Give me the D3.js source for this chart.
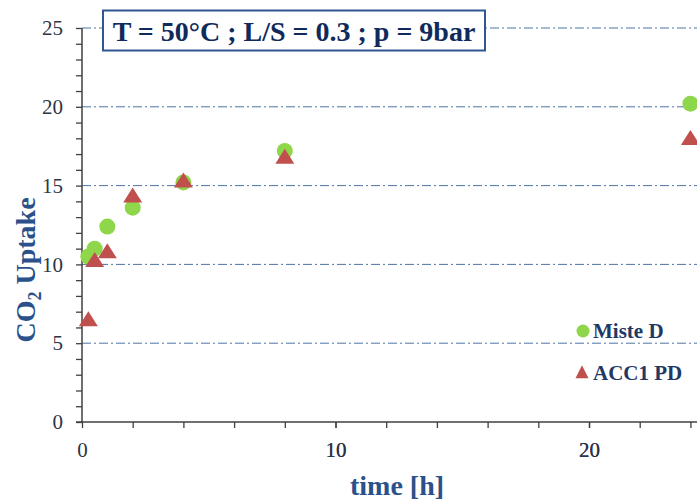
<!DOCTYPE html>
<html>
<head>
<meta charset="utf-8">
<script src="https://cdn.jsdelivr.net/npm/d3@7"></script>
<style>
  html, body { margin: 0; padding: 0; background: #fff; }
  svg { display: block; }
</style>
</head>
<body>
<svg id="chart" width="697" height="501"></svg>
<script>
// CO2 uptake over time for two materials
const timeMisteD = [0.25, 0.5, 1, 2, 4, 8, 24];
const uptakeMisteD = [10.5, 11.0, 12.4, 13.6, 15.2, 17.2, 20.2];
const timeACC1 = [0.25, 0.5, 1, 2, 4, 8, 24];
const uptakeACC1 = [6.4, 10.15, 10.7, 14.25, 15.2, 16.7, 17.9];
const xTicks = [0, 10, 20];
const yTicks = [0, 5, 10, 15, 20, 25];
const seriesNames = ["Miste D", "ACC1 PD"];
const titleText = "T = 50°C ; L/S = 0.3 ; p = 9bar";

const svg = d3.select("#chart");
const FONT = "'Liberation Serif'";

const x = d3.scaleLinear().domain([0, 24.26]).range([82, 697]);
const y = d3.scaleLinear().domain([0, 25]).range([422, 28]);

// horizontal dash-dot gridlines
svg.append("g").selectAll("line")
  .data(yTicks.filter(d => d > 0))
  .join("line")
  .attr("x1", x(0)).attr("x2", 697)
  .attr("y1", d => y(d)).attr("y2", d => y(d))
  .attr("stroke", "#4f74a8")
  .attr("stroke-width", 1)
  .attr("stroke-dasharray", "9,3,2,3");

// y axis: majors every 5, minors every 1, ticks pointing left
const yAxis = d3.axisLeft(y).tickValues(d3.range(0, 26, 1))
  .tickSize(6).tickPadding(13)
  .tickFormat(d => yTicks.includes(d) ? d : "");
const gy = svg.append("g").attr("transform", `translate(${x(0)},0)`).call(yAxis);
gy.attr("font-family", null);
gy.select(".domain").attr("stroke", "#404040").attr("stroke-width", 1.5).attr("d", `M0,${y(25)}V${y(0)}`);
gy.selectAll(".tick line").attr("stroke", "#404040").attr("stroke-width", 1.3);
gy.selectAll(".tick text").style("font-family", FONT).attr("font-size", 21).attr("fill", "#2b3547");

// x axis: majors every 10, minors every 2, ticks pointing down
const xAxis = d3.axisBottom(x).tickValues(d3.range(0, 25, 2).concat([10, 20]))
  .tickSize(6).tickPadding(14)
  .tickFormat(d => xTicks.includes(d) ? d : "");
const gx = svg.append("g").attr("transform", `translate(0,${y(0)})`).call(xAxis);
gx.attr("font-family", null);
gx.select(".domain").attr("stroke", "#404040").attr("stroke-width", 1.5).attr("d", `M${x(0) - 6},0H697`);
gx.selectAll(".tick line").attr("stroke", "#404040").attr("stroke-width", 1.3);
gx.selectAll(".tick text").style("font-family", FONT).attr("font-size", 21).attr("fill", "#2b3547");

// flattened triangle marker (wider than tall)
const flatTriangle = (w, h) => ({
  draw(ctx) {
    ctx.moveTo(0, -h * 2 / 3);
    ctx.lineTo(w / 2, h / 3);
    ctx.lineTo(-w / 2, h / 3);
    ctx.closePath();
  }
});

// series markers
const green = "#8ed64a";
const red = "#c0504d";

svg.append("g").selectAll("circle")
  .data(d3.zip(timeMisteD, uptakeMisteD))
  .join("circle")
  .attr("cx", d => x(d[0])).attr("cy", d => y(d[1]))
  .attr("r", 8).attr("fill", green);

svg.append("g").selectAll("path")
  .data(d3.zip(timeACC1, uptakeACC1))
  .join("path")
  .attr("d", d3.symbol().type(flatTriangle(19, 15)))
  .attr("transform", d => `translate(${x(d[0])},${y(d[1])})`)
  .attr("fill", red);

// title box
const tb = svg.append("g");
tb.append("rect").attr("x", 103).attr("y", 10.5).attr("width", 382).attr("height", 40)
  .attr("fill", "#fff").attr("stroke", "#2e5790").attr("stroke-width", 2);
tb.append("text").attr("x", 294).attr("y", 40.5).attr("text-anchor", "middle")
  .style("font-family", FONT).attr("font-weight", "bold").attr("font-size", 28)
  .attr("fill", "#102a5c").text(titleText);

// axis titles
const yl = svg.append("text")
  .attr("transform", "translate(35,270) rotate(-90)")
  .attr("text-anchor", "middle")
  .style("font-family", FONT).attr("font-weight", "bold").attr("font-size", 28)
  .attr("fill", "#2a5189");
yl.append("tspan").text("CO");
yl.append("tspan").attr("font-size", 18).attr("dy", 6).text("2");
yl.append("tspan").attr("dy", -6).text(" Uptake");

svg.append("text").attr("x", 397).attr("y", 495).attr("text-anchor", "middle")
  .style("font-family", FONT).attr("font-weight", "bold").attr("font-size", 28)
  .attr("fill", "#2a5189").text("time [h]");

// legend
const lg = svg.append("g");
lg.append("circle").attr("cx", 583).attr("cy", 331).attr("r", 6.5).attr("fill", green);
lg.append("path").attr("d", d3.symbol().type(flatTriangle(13, 13)))
  .attr("transform", "translate(582,374)").attr("fill", red);
lg.selectAll("text.leg").data(seriesNames).join("text")
  .attr("class", "leg")
  .attr("x", 593).attr("y", (d, i) => 338 + i * 42)
  .style("font-family", FONT).attr("font-weight", "bold").attr("font-size", 21)
  .attr("fill", "#1f3864").text(d => d);
</script>
</body>
</html>
